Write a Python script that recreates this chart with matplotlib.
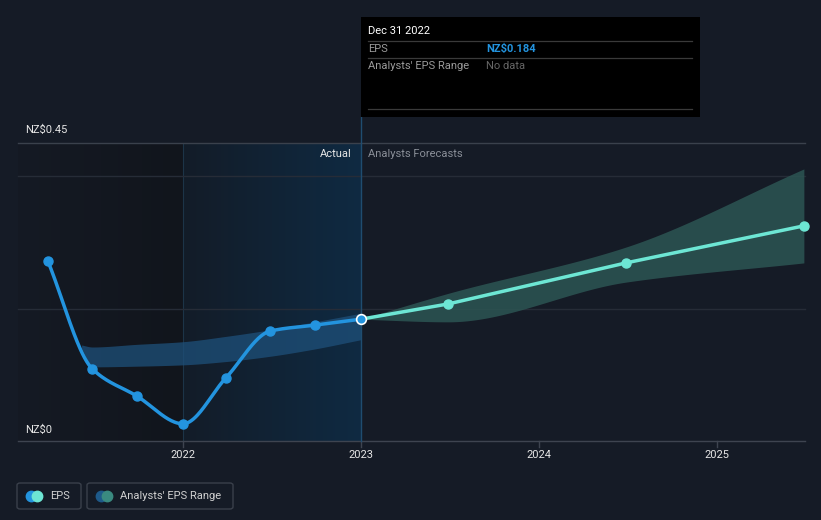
import numpy as np
import matplotlib
matplotlib.use("Agg")
import matplotlib.pyplot as plt
from matplotlib.patches import FancyBboxPatch, Rectangle, Circle

plt.rcParams['font.family'] = ['Roboto', 'DejaVu Sans']

# ---------------- data ----------------
eps_t = [2021.24, 2021.49, 2021.74, 2022.0, 2022.24, 2022.49, 2022.74, 2023.0]
eps_v = [0.272, 0.109, 0.068, 0.026, 0.095, 0.166, 0.175, 0.184]

fc_t = [2023.0, 2023.49, 2024.49, 2025.49]
fc_v = [0.184, 0.207, 0.269, 0.325]
fc_hi = [0.184, 0.223, 0.293, 0.411]
fc_lo = [0.184, 0.180, 0.240, 0.269]

past_t = [2021.43, 2021.49, 2021.74, 2022.0, 2022.24, 2022.49, 2022.74, 2023.0]
past_hi = [0.145, 0.142, 0.146, 0.150, 0.158, 0.168, 0.180, 0.193]
past_lo = [0.140, 0.112, 0.113, 0.115, 0.120, 0.128, 0.139, 0.153]

year_ticks = [2022, 2023, 2024, 2025]
y_labels = ["NZ$0", "NZ$0.45"]

BG = "#151b26"
EPS_C = "#2394df"
FC_C = "#6de6d4"

def pchip(x, y, n=300):
    x = np.asarray(x, float); y = np.asarray(y, float)
    h = np.diff(x); delta = np.diff(y) / h
    m = np.zeros_like(y)
    m[0] = delta[0]; m[-1] = delta[-1]
    for k in range(1, len(x) - 1):
        if delta[k - 1] * delta[k] <= 0:
            m[k] = 0
        else:
            w1 = 2 * h[k] + h[k - 1]; w2 = h[k] + 2 * h[k - 1]
            m[k] = (w1 + w2) / (w1 / delta[k - 1] + w2 / delta[k])
    xs = np.linspace(x[0], x[-1], n)
    idx = np.clip(np.searchsorted(x, xs) - 1, 0, len(x) - 2)
    t = (xs - x[idx]) / h[idx]
    h00 = 2 * t**3 - 3 * t**2 + 1; h10 = t**3 - 2 * t**2 + t
    h01 = -2 * t**3 + 3 * t**2; h11 = t**3 - t**2
    ys = h00 * y[idx] + h10 * h[idx] * m[idx] + h01 * y[idx + 1] + h11 * h[idx] * m[idx + 1]
    return xs, ys

W, H = 821, 520
fig = plt.figure(figsize=(W / 100, H / 100), dpi=100, facecolor=BG)
ax = fig.add_axes([0, 0, 1, 1])
ax.set_facecolor(BG)
x0px, px_per_year = 183, 177.9
y0px, px_per_unit = 441, 662.0
def tx(px): return 2022 + (px - x0px) / px_per_year
ax.set_xlim(tx(0), tx(W))
ax.set_ylim(-(H - y0px) / px_per_unit, y0px / px_per_unit)
ax.axis('off')

x_left = tx(18); x_right = tx(805)
ymin, ymax = 0.0, 0.45

# shaded past regions (gradients)
g1 = np.linspace(0, 1, 256).reshape(1, -1)
from matplotlib.colors import LinearSegmentedColormap
cm1 = LinearSegmentedColormap.from_list('a', ["#151a24", "#11151c"])
cm2 = LinearSegmentedColormap.from_list('b', ["#131c28", "#0f2a42"])
ax.imshow(g1, extent=[x_left, 2022, ymin, ymax], cmap=cm1, aspect='auto', zorder=0.5)
ax.imshow(g1, extent=[2022, 2023, ymin, ymax], cmap=cm2, aspect='auto', zorder=0.5)
ax.plot([2022, 2022], [ymin, ymax], color="#1c3447", lw=0.8, zorder=0.6)

# gridlines
for v, c in [(0.2, "#262c37"), (0.4, "#262c37"), (0.45, "#3a414c")]:
    ax.plot([x_left, x_right], [v, v], color=c, lw=1, zorder=0.7)
ax.plot([x_left, x_right], [0, 0], color="#3e4450", lw=1, zorder=0.7)

# x ticks
for yr in year_ticks:
    ax.plot([yr, yr], [0, -6 / px_per_unit], color="#3e4450", lw=1)
    ax.text(yr, -(455 - y0px) / px_per_unit, str(yr), color="#e6e6e6", fontsize=8,
            ha='center', va='center')

# y labels
ax.text(tx(25), (y0px - 430) / px_per_unit, y_labels[0], color="#e6e6e6", fontsize=8, ha='left', va='center')
ax.text(tx(25), (y0px - 130) / px_per_unit, y_labels[1], color="#e6e6e6", fontsize=8, ha='left', va='center')

# Actual / Analysts Forecasts
ax.text(tx(352), (y0px - 154) / px_per_unit, "Actual", color="#e6e6e6", fontsize=8, ha='right', va='center')
ax.text(tx(368), (y0px - 154) / px_per_unit, "Analysts Forecasts", color="#8a8f98", fontsize=8, ha='left', va='center')

# past analysts band
bx, bh = pchip(past_t, past_hi)
_, bl = pchip(past_t, past_lo)
ax.fill_between(bx, bl, bh, color="#1e507a", alpha=0.75, lw=0, zorder=2)

# forecast band
fx, fh = pchip(fc_t, fc_hi)
_, fl = pchip(fc_t, fc_lo)
ax.fill_between(fx, fl, fh, color="#2c5553", alpha=0.85, lw=0, zorder=2)

# vertical tooltip line
ax.plot([2023, 2023], [0, (y0px - 117) / px_per_unit], color="#1f4d70", lw=1, zorder=2.5)

# EPS line
ex, ev = pchip(eps_t, eps_v)
ax.plot(ex, ev, color=EPS_C, lw=2.5, zorder=3, solid_capstyle='round')
ax.plot(eps_t[:-1], eps_v[:-1], 'o', color=EPS_C, ms=6.5, zorder=4)

# forecast line
ax.plot(fc_t, fc_v, color=FC_C, lw=2.5, zorder=3, solid_capstyle='round')
ax.plot(fc_t[1:], fc_v[1:], 'o', color=FC_C, ms=6.5, zorder=4)
ax.plot([eps_t[-1]], [eps_v[-1]], 'o', color=EPS_C, ms=7, mec='white', mew=1.2, zorder=5)

# tooltip box (figure pixel coords)
def fx_(px): return px / W
def fy_(py): return 1 - py / H
fig.patches.append(Rectangle((fx_(361), fy_(117)), (700 - 361) / W, (117 - 17) / H,
                             transform=fig.transFigure, facecolor="#000000", edgecolor='none', zorder=10))
for py in [41, 58, 109]:
    fig.lines.append(plt.Line2D([fx_(368), fx_(692)], [fy_(py), fy_(py)], transform=fig.transFigure,
                                color="#3a3a3a", lw=0.9, zorder=11))
fig.text(fx_(368), fy_(31), "Dec 31 2022", color="white", fontsize=8, ha='left', va='center', zorder=12)
fig.text(fx_(368), fy_(49), "EPS", color="#9a9a9a", fontsize=8, ha='left', va='center', zorder=12)
fig.text(fx_(486), fy_(49), "NZ$0.184", color=EPS_C, fontsize=8, fontweight='bold', ha='left', va='center', zorder=12)
fig.text(fx_(368), fy_(66), "Analysts' EPS Range", color="#9a9a9a", fontsize=8, ha='left', va='center', zorder=12)
fig.text(fx_(486), fy_(66), "No data", color="#666666", fontsize=8, ha='left', va='center', zorder=12)

# legend
for (l, r, label, c1, c2, tx_px) in [(17, 81, "EPS", EPS_C, FC_C, 50),
                                     (87, 233, "Analysts' EPS Range", "#1e5a8a", "#3a8a80", 120)]:
    fig.patches.append(FancyBboxPatch((fx_(l), fy_(509)), (r - l) / W, 26 / H,
                                      boxstyle="round,pad=0,rounding_size=0.004",
                                      transform=fig.transFigure, facecolor='none',
                                      edgecolor="#3a404b", lw=1, zorder=10))
    cx = l + 14
    fig.lines.append(plt.Line2D([fx_(cx)], [fy_(496)], marker='o', ms=7.5, color=c1,
                                transform=fig.transFigure, zorder=11))
    fig.lines.append(plt.Line2D([fx_(cx + 6)], [fy_(496)], marker='o', ms=7.5, color=c2,
                                transform=fig.transFigure, zorder=12))
    fig.text(fx_(tx_px), fy_(496), label, color="#d0d0d0", fontsize=8, ha='left', va='center', zorder=12)

fig.savefig("out.png", dpi=100, facecolor=BG)
